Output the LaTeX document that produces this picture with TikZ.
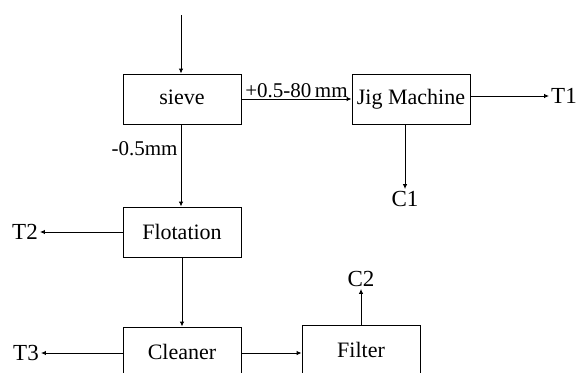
\documentclass[tikz,border=0pt]{standalone}
\usepackage{fontspec}
\setmainfont{Liberation Serif}
\usetikzlibrary{arrows.meta}
\begin{document}
\begin{tikzpicture}[x=1pt,y=-1pt,
  box/.style={draw, line width=0.9pt, minimum width=118pt, minimum height=50pt, inner sep=0pt, font=\fontsize{22}{24}\selectfont},
  lbl/.style={inner sep=2pt, font=\fontsize{23}{24}\selectfont},
  flow/.style={line width=0.9pt, -{Latex[length=5pt,width=4.5pt]}}]
\clip (0,0) rectangle (577,372);
\fill[white] (0,0) rectangle (577,372);
\node[box] (sieve) at (182,99) {\raisebox{3pt}{sieve}};
\node[box] (jig) at (411,99) {\raisebox{2pt}{Jig Machine}};
\node[box] (flot) at (182,232) {\raisebox{-2pt}{Flotation}};
\node[box] (clean) at (182,352) {Cleaner};
\node[box] (filt) at (361,350) {Filter};
\node[lbl] (T1) at (564,96) {T1};
\node[lbl] (C1) at (405,199) {C1};
\node[lbl] (T2) at (25,232) {T2};
\node[lbl] (T3) at (26,353) {T3};
\node[lbl] (C2) at (361,279) {C2};
\coordinate (in) at (181,15);
\draw[flow] (in) -- (in |- sieve.north);
\draw[flow] (sieve.east) -- node[above, inner sep=1pt, font=\fontsize{21}{24}\selectfont] (plus) {+0.5-80\,mm} (jig.west);
\draw[flow] (jig.east |- T1.west) -- (T1.west);
\draw[flow] (C1 |- jig.south) -- (C1.north);
\draw[flow] (in |- sieve.south) -- node[left, inner sep=3pt, pos=0.3, font=\fontsize{21}{24}\selectfont] (minus) {-0.5mm} (in |- flot.north);
\draw[flow] (flot.west) -- (flot.west -| T2.east);
\draw[flow] (flot.south) -- (clean.north);
\draw[flow] (clean.west |- T3.east) -- (T3.east);
\draw[flow] (clean.east |- T3.east) -- (T3.east -| filt.west);
\draw[flow] (filt.north) -- (C2.south);
\end{tikzpicture}
\end{document}
